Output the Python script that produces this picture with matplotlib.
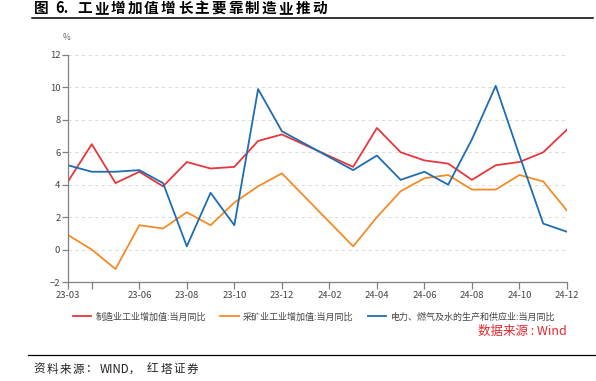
import matplotlib
matplotlib.use("Agg")
import matplotlib.pyplot as plt
import numpy as np

plt.rcParams['font.family'] = ['Noto Sans CJK SC', 'DejaVu Sans']

# months with data (Jan/Feb 2024 are not reported)
months = ['23-03', '23-04', '23-05', '23-06', '23-07', '23-08', '23-09', '23-10',
          '23-11', '23-12', '24-03', '24-04', '24-05', '24-06', '24-07', '24-08',
          '24-09', '24-10', '24-11', '24-12']
manuf = [4.2, 6.5, 4.1, 4.8, 3.9, 5.4, 5.0, 5.1, 6.7, 7.1,
         5.1, 7.5, 6.0, 5.5, 5.3, 4.3, 5.2, 5.4, 6.0, 7.4]
mining = [0.9, 0.0, -1.2, 1.5, 1.3, 2.3, 1.5, 2.9, 3.9, 4.7,
          0.2, 2.0, 3.6, 4.4, 4.6, 3.7, 3.7, 4.6, 4.2, 2.4]
utility = [5.2, 4.8, 4.8, 4.9, 4.1, 0.2, 3.5, 1.5, 9.9, 7.3,
           4.9, 5.8, 4.3, 4.8, 4.0, 6.8, 10.1, 5.8, 1.6, 1.1]
series_names = ['制造业工业增加值:当月同比', '采矿业工业增加值:当月同比',
                '电力、燃气及水的生产和供应业:当月同比']
tick_months = ['23-03', '23-04', '23-06', '23-08', '23-10', '23-12',
               '24-02', '24-04', '24-06', '24-08', '24-10', '24-12']

colors = ['#e6373c', '#f28c28', '#1f6db0']
grey = '#808080'
txt = '#444444'
W, H = 596, 381


def month_pos(m):
    return (int(m[:2]) - 23) * 12 + int(m[3:]) - 3


def spaced(fig, x0, y, s, step, **kw):
    # one glyph at a time, to get the wide letter spacing of the original
    for i, ch in enumerate(s):
        fig.text((x0 + i * step) / W, 1 - y / H, ch, ha='left', va='center', **kw)


x = [month_pos(m) for m in months]

fig = plt.figure(figsize=(5.96, 3.81), dpi=100)
ax = fig.add_axes([68 / W, 1 - 282 / H, (567 - 68) / W, (282 - 55) / H])

for vals, name, c in zip([manuf, mining, utility], series_names, colors):
    ax.plot(x, vals, color=c, lw=1.3, label=name)

ax.set_xlim(0, 21)
ax.set_ylim(-2, 12)
ax.set_yticks(np.arange(-2, 13, 2))
ax.set_xticks([month_pos(m) for m in tick_months])
ax.set_xticklabels(['' if m == '23-04' else m for m in tick_months])

for yv in range(0, 13, 2):
    ax.axhline(yv, color='#dddddd', lw=0.8, ls=(0, (3, 3)), zorder=0)

for s in ['top', 'right']:
    ax.spines[s].set_visible(False)
for s in ['left', 'bottom']:
    ax.spines[s].set_color(grey)
    ax.spines[s].set_linewidth(0.9)
ax.tick_params(axis='both', colors=grey, labelcolor=txt, labelsize=6.8,
               length=4, width=0.9, pad=1.5)
ax.tick_params(axis='x', length=5)

ax.text(-0.05, 12.9, '%', fontsize=6, color='#666666', ha='center')

ax.legend(loc='center', bbox_to_anchor=(314 / W, 1 - 317 / H),
          bbox_transform=fig.transFigure, ncol=3, frameon=False,
          fontsize=6.5, handlelength=2.0, handletextpad=0.5,
          columnspacing=1.6, labelcolor=txt)

fig.text(567 / W, 1 - 331 / H, '数据来源 : Wind', color='#e8262b',
         fontsize=9, ha='right', va='center')

# title
tkw = dict(fontsize=10.5, fontweight='bold', color='black')
fig.text(34 / W, 1 - 8 / H, '图', ha='left', va='center', **tkw)
fig.text(55 / W, 1 - 8 / H, '6.', ha='left', va='center', **tkw)
spaced(fig, 77, 8, '工业增加值增长主要靠制造业推动', 16.8, **tkw)

fig.add_artist(plt.Line2D([32 / W, 593 / W], [1 - 18 / H] * 2,
                          color='black', lw=1.1))
fig.add_artist(plt.Line2D([28 / W, 1.0], [1 - 355 / H] * 2,
                          color='black', lw=0.9))

# footer
fkw = dict(fontsize=8.3, color='#222222')
spaced(fig, 33, 369, '资料来源：', 13.3, **fkw)
fig.text(100 / W, 1 - 369 / H, 'WIND，', ha='left', va='center', **fkw)
spaced(fig, 147, 369, '红塔证券', 13.3, **fkw)

fig.savefig('out.png', dpi=100)
